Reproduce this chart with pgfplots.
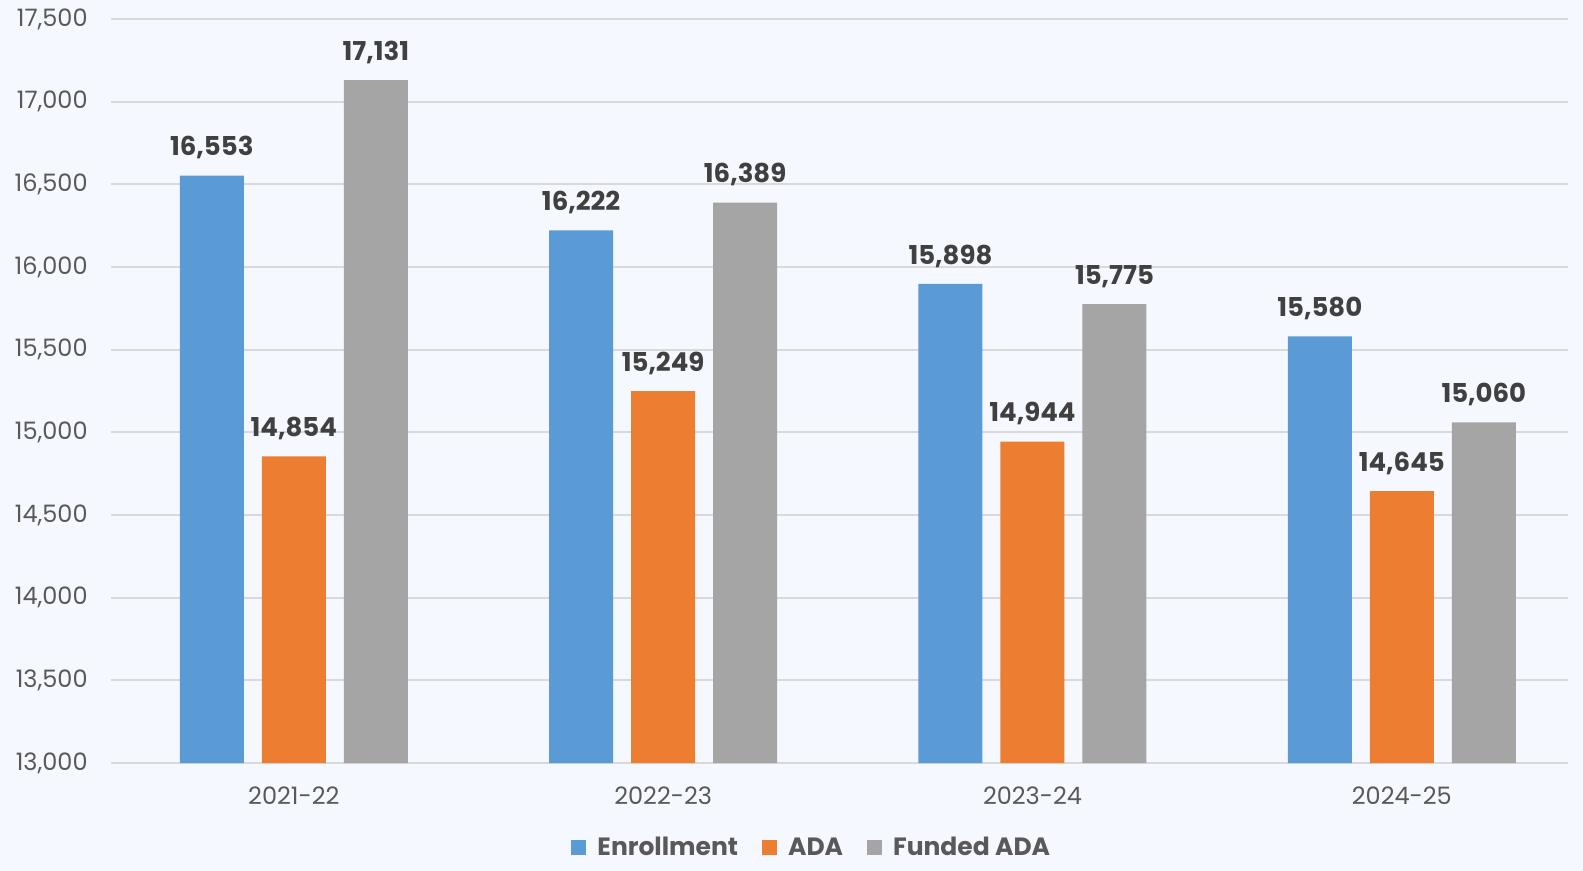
\documentclass[border=0pt]{standalone}
\usepackage{pgfplots}
\pgfplotsset{compat=1.18}
\usepackage{fontspec}
\setmainfont{Poppins}

\definecolor{bg}{HTML}{F5F8FE}
\definecolor{cblue}{HTML}{5B9BD5}
\definecolor{corange}{HTML}{ED7D31}
\definecolor{cgray}{HTML}{A5A5A5}
\definecolor{gridc}{HTML}{D9D9D9}
\definecolor{ticktxt}{HTML}{595959}
\definecolor{lbltxt}{HTML}{404040}

\pgfplotsset{/pgf/number format/.cd, 1000 sep={,}, assume math mode=true}

\begin{document}
\begin{tikzpicture}
\fill[bg] (-55.5bp,-54bp) rectangle (736bp,381.5bp);
\begin{axis}[
    at={(0,0)}, anchor=south west,
    scale only axis, width=728.5bp, height=372bp,
    ybar=9bp, bar width=32bp,
    xmin=-0.495, xmax=3.45,
    ymin=13000, ymax=17500,
    ytick={13000,13500,...,17500},
    scaled y ticks=false,
    xtick={0,1,2,3},
    xticklabels={2021-22,2022-23,2023-24,2024-25},
    major tick length=0pt,
    axis line style={draw=none},
    ymajorgrids=true,
    grid style={color=gridc, line width=1bp},
    tick label style={font=\fontsize{12bp}{14bp}\selectfont, color=ticktxt},
    yticklabel style={anchor=east, inner sep=0pt, xshift=-11.5bp},
    xticklabel style={anchor=north, inner sep=0pt, yshift=-11.5bp},
    nodes near coords,
    every node near coord/.append style={font=\fontsize{13bp}{15bp}\selectfont\bfseries,
        color=lbltxt, anchor=south, inner sep=0pt, yshift=8bp},
    legend columns=3,
    legend style={at={(0.481,-0.114)}, anchor=center, draw=none, fill=none,
        font=\fontsize{12.5bp}{15bp}\selectfont\bfseries, text=ticktxt,
        nodes={inner sep=1pt},
        /tikz/every odd column/.append style={column sep=4.5bp},
        /tikz/every even column/.append style={column sep=11bp}},
    legend image code/.code={\fill[#1,draw=none] (0bp,-3.75bp) rectangle (7.5bp,3.75bp);},
]
\addplot[fill=cblue, draw=none] coordinates {(0,16553) (1,16222) (2,15898) (3,15580)};
\addlegendentry{Enrollment}
\addplot[fill=corange, draw=none] coordinates {(0,14854) (1,15249) (2,14944) (3,14645)};
\addlegendentry{ADA}
\addplot[fill=cgray, draw=none] coordinates {(0,17131) (1,16389) (2,15775) (3,15060)};
\addlegendentry{Funded ADA}
\end{axis}
\pgfresetboundingbox
\path[use as bounding box] (-55.5bp,-54bp) rectangle (736bp,381.5bp);
\end{tikzpicture}
\end{document}
